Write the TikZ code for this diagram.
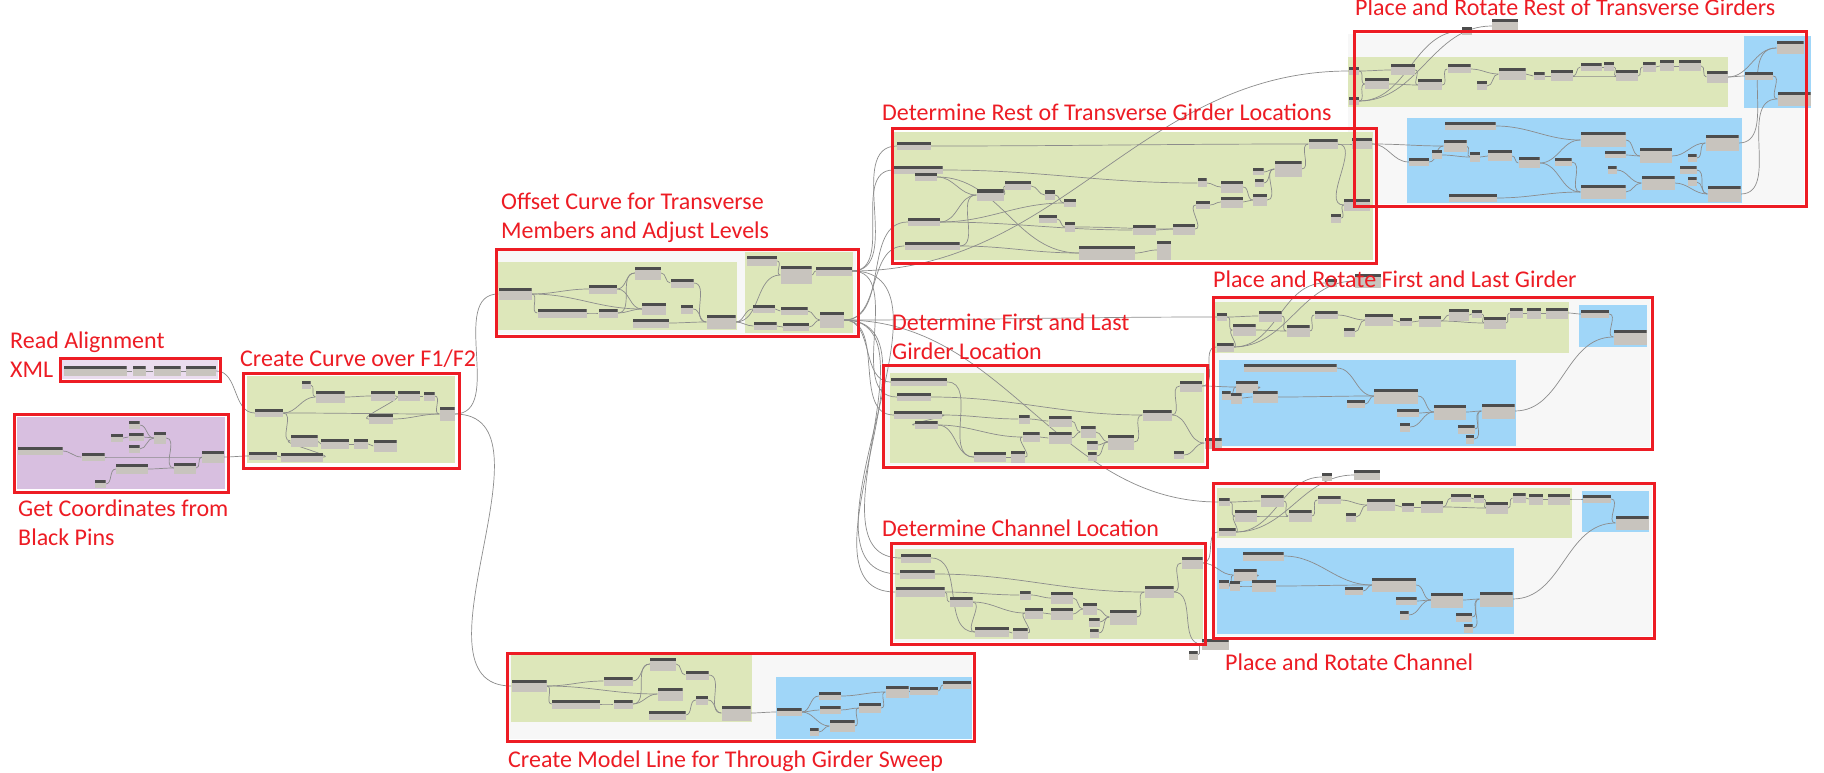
\documentclass[tikz,border=0pt]{standalone}
\usepackage{fontspec}
\setmainfont{Carlito}
\usetikzlibrary{positioning}
\pgfdeclarelayer{back}
\pgfsetlayers{back,main}
\definecolor{redc}{RGB}{237,28,36}
\definecolor{grnc}{RGB}{221,231,186}
\definecolor{bluc}{RGB}{160,214,248}
\definecolor{purc}{RGB}{216,191,224}
\definecolor{pagec}{RGB}{247,247,247}
\definecolor{nhead}{RGB}{77,77,77}
\definecolor{nbody}{RGB}{200,196,190}
\definecolor{wirec}{RGB}{140,140,140}

\begin{document}
\begin{tikzpicture}[
  x=1pt, y=-1pt,
  dyn/.style={fill=nbody, inner sep=0pt, minimum height=8pt,
    path picture={\fill[nhead] (path picture bounding box.north west)
      rectangle ([yshift=-3pt]path picture bounding box.north east);}},
  wire/.style={draw=wirec, line width=0.7pt},
  redbox/.style={draw=redc, line width=3pt},
  lbl/.style={text=redc, font=\fontsize{24}{29}\selectfont, inner sep=0pt,
    anchor=base west, align=left},
]
\useasboundingbox (0,0) rectangle (1824,773);

% group backgrounds
\begin{pgfonlayer}{back}
\fill[white] (0,0) rectangle (1824,773);
\fill[purc!55] (62,360) rectangle (218,379);
\fill[purc] (17,417) rectangle (225,489);
\fill[grnc] (247,376) rectangle (455,463);
\fill[pagec] (498,251) rectangle (856,334);
\fill[grnc] (498,262) rectangle (737,330);
\fill[grnc] (745,252) rectangle (853,333);
\fill[pagec] (509,655) rectangle (972,739);
\fill[grnc] (511,654) rectangle (752,722);
\fill[bluc] (776,677) rectangle (972,739);
\fill[pagec] (1348,34) rectangle (1804,204);
\fill[grnc] (1348,57) rectangle (1728,107);
\fill[bluc] (1744,36) rectangle (1811,108);
\fill[bluc] (1407,118) rectangle (1742,203);
\fill[grnc] (894,132) rectangle (1373,260);
\fill[pagec] (885,367) rectangle (1205,465);
\fill[grnc] (890,373) rectangle (1204,463);
\fill[pagec] (1215,299) rectangle (1650,447);
\fill[grnc] (1215,302) rectangle (1569,353);
\fill[bluc] (1219,360) rectangle (1516,446);
\fill[bluc] (1579,305) rectangle (1647,347);
\fill[pagec] (893,545) rectangle (1203,642);
\fill[grnc] (895,549) rectangle (1203,639);
\fill[pagec] (1215,485) rectangle (1652,636);
\fill[grnc] (1217,488) rectangle (1572,538);
\fill[bluc] (1217,548) rectangle (1514,634);
\fill[bluc] (1582,491) rectangle (1649,532);
\end{pgfonlayer}

% dynamo nodes
\foreach \n/\x/\y/\w/\h in {
  ra1/95/371/63/10, ra2/139/371/13/10, ra3/167/371/27/10, ra4/201/371/30/10,
  gc1/40/451/45/8, gc2/93/457/23/8, gc3/132/469/32/10, gc4/134/425/11/8,
  gc5/117/438/12/8, gc6/136/437/15/8, gc7/134/449/11/8, gc8/160/438/12/12,
  gc9/185/468/22/11, gc10/213/457/22/12, gc11/100/484/11/8,
  cc1/269/413/28/8, cc2/306/385/9/8, cc3/330/397/29/12, cc4/383/396/24/10,
  cc5/409/396/22/10, cc6/429/396/11/9, cc7/447/414/15/14, cc8/381/419/24/10,
  cc9/304/441/27/12, cc10/335/444/28/10, cc11/361/444/14/10, cc12/385/446/23/12,
  cc13/263/456/28/8, cc14/302/457/42/9,
  oc1/515/294/33/12, oc2/562/313/49/9, oc3/603/289/28/9, oc4/608/313/19/9,
  oc5/648/273/26/13, oc6/682/283/23/9, oc7/654/309/24/12, oc8/651/323/36/9,
  oc9/687/309/12/9, oc10/721/322/29/14, oc11/762/261/30/10, oc12/796/275/31/18,
  oc13/834/271/36/9, oc14/764/309/22/8, oc15/794/311/27/8, oc16/765/326/23/8,
  oc17/796/327/26/8, oc18/832/320/24/16,
  ml1/529/686/35/12, ml2/576/704/48/9, ml3/618/681/29/9, ml4/623/704/19/9,
  ml5/663/664/26/13, ml6/697/675/23/9, ml7/670/694/25/13, ml8/667/715/37/9,
  ml9/702/700/12/9, ml10/736/713/29/15, ml11/789/712/25/8, ml12/830/696/22/8,
  ml13/830/710/21/8, ml14/842/726/25/12, ml15/814/732/9/8, ml16/870/708/22/10,
  ml17/897/692/23/12, ml18/924/691/28/8, ml19/957/685/28/8,
  dr1/914/146/34/8, dr2/918/170/49/8, dr3/926/177/22/8, dr4/990/195/27/11,
  dr5/1018/186/26/9, dr6/1050/195/10/9, dr7/1070/203/12/8, dr8/1048/219/18/8,
  dr9/1070/227/10/10, dr10/924/222/32/8, dr11/932/246/55/8, dr12/1107/253/56/14,
  dr13/1144/230/23/10, dr14/1164/250/14/19, dr15/1184/229/22/11, dr16/1203/205/14/8,
  dr17/1202/183/9/9, dr18/1232/187/22/11, dr19/1232/202/22/11, dr20/1260/200/14/12,
  dr21/1258/172/11/7, dr22/1259/183/9/8, dr23/1288/169/27/16, dr24/1323/144/29/10,
  dr25/1362/144/20/11, dr26/1357/205/26/12, dr27/1336/218/10/9,
  pr0a/1467/31/10/8, pr0b/1505/26/26/14,
  pr1/1354/71/10/8, pr2/1377/84/24/11, pr3/1403/70/24/11, pr4/1430/85/24/11,
  pr5/1354/101/10/8, pr6/1459/69/23/9, pr7/1482/86/10/9, pr8/1512/74/27/12,
  pr9/1539/76/11/8, pr10/1562/76/22/11, pr11/1591/67/21/8, pr12/1609/67/10/9,
  pr13/1627/76/22/11, pr14/1649/67/13/10, pr15/1667/66/14/11, pr16/1690/66/22/11,
  pr17/1717/77/21/12, pr18/1790/48/27/13, pr19/1759/76/28/8, pr20/1794/99/33/14,
  pr21/1470/126/51/8, pr22/1455/146/23/12, pr23/1419/162/20/8, pr24/1437/155/10/9,
  pr25/1475/157/10/10, pr26/1500/156/24/11, pr27/1529/163/21/11, pr28/1563/162/17/8,
  pr29/1603/140/45/15, pr30/1615/155/21/7, pr31/1612/170/9/8, pr32/1656/156/32/15,
  pr33/1658/183/33/14, pr34/1603/192/45/14, pr35/1473/198/48/8, pr36/1692/158/9/8,
  pr37/1688/170/17/8, pr38/1692/182/9/9, pr39/1722/143/33/16, pr40/1724/194/33/15,
  df1/919/382/56/8, df2/914/397/34/8, df3/918/415/48/8, df4/926/425/23/8,
  df5/990/457/32/10, df6/1018/457/14/12, df7/1024/419/11/9, df8/1031/437/17/10,
  df9/1060/421/23/11, df10/1060/438/23/12, df11/1088/432/15/12, df12/1092/445/11/9,
  df13/1092/456/9/9, df14/1121/442/26/15, df15/1157/415/29/11, df16/1191/386/22/11,
  df17/1213/443/17/11, df18/1179/455/10/8,
  pf0a/1331/283/12/8, pf0b/1368/281/26/14,
  pf1/1222/317/10/8, pf2/1244/330/23/12, pf3/1270/316/23/11, pf4/1298/331/23/12,
  pf5/1225/347/17/9, pf6/1326/315/23/8, pf7/1349/332/11/9, pf8/1379/320/28/12,
  pf9/1406/322/12/8, pf10/1430/321/22/11, pf11/1459/315/20/12, pf12/1477/314/10/8,
  pf13/1495/323/22/12, pf14/1516/313/13/10, pf15/1534/313/14/11, pf16/1557/313/22/11,
  pf17/1595/314/28/8, pf18/1630/337/33/15, pf19/1290/368/93/8, pf20/1247/387/22/12,
  pf21/1226/395/9/9, pf22/1236/398/11/11, pf23/1265/397/25/12, pf24/1356/404/18/8,
  pf25/1396/396/44/15, pf26/1408/413/22/8, pf27/1405/427/10/9, pf28/1450/412/32/15,
  pf29/1466/429/17/9, pf30/1470/439/8/9, pf31/1498/411/33/15,
  dc1/916/558/30/9, dc2/917/574/35/9, dc3/920/592/49/10, dc4/961/602/23/10,
  dc5/992/632/34/10, dc6/1020/633/15/11, dc7/1025/595/11/9, dc8/1034/613/18/11,
  dc9/1062/598/22/12, dc10/1062/614/22/12, dc11/1090/609/14/12, dc12/1094/622/11/9,
  dc13/1094/633/9/9, dc14/1123/617/27/15, dc15/1159/592/29/12, dc16/1192/563/21/12,
  dc17/1215/644/27/11, dc18/1193/655/9/9,
  pc0a/1327/477/10/8, pc0b/1367/475/26/10,
  pc1/1224/502/11/8, pc2/1246/516/22/12, pc3/1272/501/23/12, pc4/1300/516/23/12,
  pc5/1227/532/17/8, pc6/1329/500/23/8, pc7/1351/517/10/9, pc8/1381/505/28/12,
  pc9/1408/507/12/9, pc10/1432/507/22/12, pc11/1461/498/20/8, pc12/1479/499/10/8,
  pc13/1497/508/22/12, pc14/1519/498/13/10, pc15/1536/499/14/11, pc16/1559/499/22/11,
  pc17/1597/499/28/8, pc18/1632/523/33/14, pc19/1263/556/41/9, pc20/1245/575/23/12,
  pc21/1224/584/10/9, pc22/1235/586/10/10, pc23/1264/586/24/12, pc24/1354/591/18/8,
  pc25/1394/585/44/14, pc26/1406/601/21/8, pc27/1404/615/9/9, pc28/1447/600/32/15,
  pc29/1464/617/16/9, pc30/1468/628/9/9, pc31/1496/599/33/15}
  \node[dyn, minimum width=\w pt, minimum height=\h pt] (\n) at (\x,\y) {};

% wires
\begin{pgfonlayer}{back}
\foreach \a/\b in {
  ra1/ra2, ra2/ra3, ra3/ra4, ra4/cc1,
  gc1/gc2, gc2/gc10, gc4/gc8, gc5/gc6, gc6/gc8, gc7/gc8, gc8/gc9, gc3/gc9,
  gc11/gc3, gc9/gc10, gc10/cc13,
  cc1/cc3, cc2/cc3, cc3/cc4, cc4/cc8, cc5/cc6, cc6/cc7, cc1/cc7, cc1/cc9,
  cc8/cc7, cc9/cc10, cc10/cc11, cc11/cc12, cc13/cc14, cc14/cc9,
  cc7/oc1, cc7/ml1,
  oc1/oc3, oc1/oc7, oc1/oc2, oc2/oc4, oc3/oc5, oc4/oc5, oc3/oc7, oc4/oc7,
  oc5/oc6, oc6/oc10, oc8/oc10, oc9/oc10, oc10/oc12, oc10/oc14, oc10/oc16,
  oc11/oc12, oc12/oc13, oc14/oc15, oc15/oc18, oc16/oc17, oc17/oc18,
  ml1/ml3, ml1/ml7, ml1/ml2, ml2/ml4, ml3/ml5, ml4/ml5, ml4/ml7, ml5/ml6,
  ml6/ml10, ml8/ml9, ml9/ml10, ml10/ml11, ml11/ml12, ml11/ml13, ml11/ml14,
  ml15/ml14, ml12/ml17, ml13/ml16, ml14/ml16, ml16/ml17, ml17/ml18, ml18/ml19,
  oc13/dr1, oc13/dr2, oc18/dr10, oc18/dr11, oc13/df2, oc18/df1, oc18/df3,
  oc13/dc2, oc18/dc1, oc18/dc3, oc13/pr1, oc18/pf1, oc18/pc1,
  dr1/dr24, dr2/dr17, dr3/dr4, dr3/dr12, dr4/dr5, dr5/dr6, dr6/dr7, dr8/dr9,
  dr10/dr4, dr10/dr7, dr10/dr13, dr11/dr4, dr11/dr12, dr12/dr14, dr13/dr15,
  dr9/dr15, dr15/dr16, dr16/dr19, dr17/dr18, dr18/dr20, dr19/dr20, dr20/dr23,
  dr21/dr23, dr22/dr23, dr23/dr24, dr24/dr25, dr24/dr26, dr27/dr26,
  dr25/pr22, dr25/pr23, pr5/pr0a, pr5/pr0b,
  pr1/pr3, pr1/pr2, pr2/pr4, pr3/pr4, pr5/pr2, pr4/pr6, pr6/pr8, pr7/pr8,
  pr8/pr9, pr9/pr10, pr10/pr11, pr11/pr12, pr10/pr13, pr12/pr13, pr13/pr14,
  pr14/pr15, pr15/pr16, pr16/pr17, pr17/pr19, pr17/pr18, pr19/pr20,
  pr21/pr29, pr23/pr22, pr22/pr25, pr24/pr25, pr25/pr26, pr26/pr27, pr27/pr29,
  pr27/pr34, pr28/pr34, pr29/pr32, pr30/pr32, pr31/pr33, pr34/pr33, pr35/pr34,
  pr32/pr39, pr33/pr40, pr36/pr39, pr37/pr40, pr38/pr40, pr39/pr18, pr40/pr20,
  df1/df5, df2/df15, df3/df7, df3/df4, df4/df5, df4/df8, df5/df6, df6/df8,
  df7/df9, df8/df10, df9/df11, df10/df11, df11/df14, df12/df14, df13/df14,
  df14/df15, df15/df16, df15/df17, df18/df17,
  df16/pf20, df16/pf5, pf5/pf0a, pf5/pf0b,
  pf1/pf3, pf1/pf2, pf2/pf4, pf3/pf4, pf5/pf2, pf4/pf6, pf6/pf8, pf7/pf8,
  pf8/pf9, pf9/pf10, pf10/pf11, pf11/pf12, pf10/pf13, pf12/pf13, pf13/pf14,
  pf14/pf15, pf15/pf16, pf16/pf17, pf17/pf18, pf21/pf20, pf20/pf22, pf22/pf23,
  pf23/pf25, pf19/pf25, pf24/pf25, pf25/pf28, pf26/pf28, pf27/pf28, pf28/pf31,
  pf29/pf31, pf30/pf31, pf31/pf18,
  dc1/dc5, dc2/dc15, dc3/dc7, dc3/dc4, dc4/dc5, dc4/dc8, dc5/dc6, dc6/dc8,
  dc7/dc9, dc8/dc10, dc9/dc11, dc10/dc11, dc11/dc14, dc12/dc14, dc13/dc14,
  dc14/dc15, dc15/dc16, dc15/dc17, dc18/dc17,
  dc16/pc20, dc16/pc5, pc5/pc0a, pc5/pc0b,
  pc1/pc3, pc1/pc2, pc2/pc4, pc3/pc4, pc5/pc2, pc4/pc6, pc6/pc8, pc7/pc8,
  pc8/pc9, pc9/pc10, pc10/pc11, pc11/pc12, pc10/pc13, pc12/pc13, pc13/pc14,
  pc14/pc15, pc15/pc16, pc16/pc17, pc17/pc18, pc21/pc20, pc20/pc22, pc22/pc23,
  pc23/pc25, pc19/pc25, pc24/pc25, pc25/pc28, pc26/pc28, pc27/pc28, pc28/pc31,
  pc29/pc31, pc30/pc31, pc31/pc18}
  \draw[wire] (\a.east) to[out=0, in=180] (\b.west);
\end{pgfonlayer}

% red frames
\draw[redbox] (60,358) rectangle (220,381);
\draw[redbox] (14,414) rectangle (228,492);
\draw[redbox] (243,373) rectangle (459,468);
\draw[redbox] (496,249) rectangle (858,336);
\draw[redbox] (507,653) rectangle (974,741);
\draw[redbox] (892,129) rectangle (1376,263);
\draw[redbox] (1354,32) rectangle (1806,206);
\draw[redbox] (883,365) rectangle (1207,467);
\draw[redbox] (1213,297) rectangle (1652,449);
\draw[redbox] (891,543) rectangle (1205,644);
\draw[redbox] (1213,483) rectangle (1654,638);

% labels
\node[lbl] (lread) at (10,377) {Read Alignment\\XML};
\node[lbl] (lcoord) at (18,545) {Get Coordinates from\\Black Pins};
\node[lbl] (lcurve) at (240,366) {Create Curve over F1/F2};
\node[lbl] (loffset) at (501,238) {Offset Curve for Transverse\\Members and Adjust Levels};
\node[lbl] (lmodel) at (508,767) {Create Model Line for Through Girder Sweep};
\node[lbl] (ldetrest) at (882,121) {Determine Rest of Transverse Girder Locations};
\node[lbl] (lplrest) at (1355,16) {Place and Rotate Rest of Transverse Girders};
\node[lbl] (ldetfirst) at (892,359) {Determine First and Last\\Girder Location};
\node[lbl] (lplfirst) at (1213,287) {Place and Rotate First and Last Girder};
\node[lbl] (ldetchan) at (882,536) {Determine Channel Location};
\node[lbl] (lplchan) at (1225,670) {Place and Rotate Channel};
\end{tikzpicture}
\end{document}
